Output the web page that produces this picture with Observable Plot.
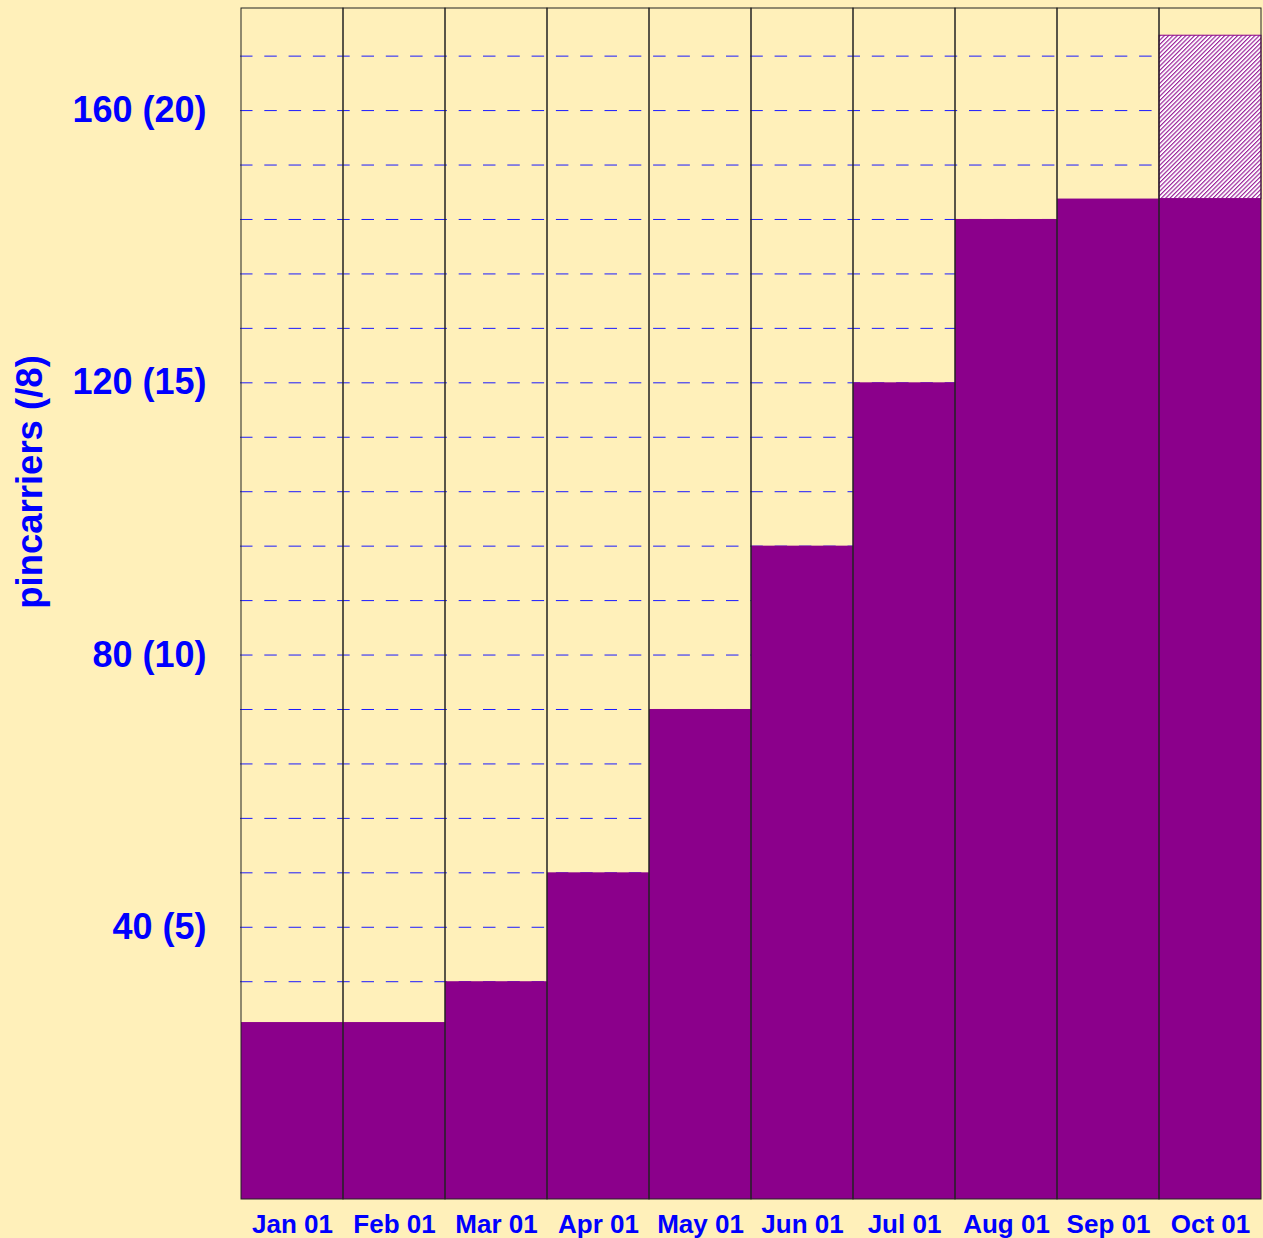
<!DOCTYPE html>
<html>
<head>
<meta charset="utf-8">
<script src="https://cdn.jsdelivr.net/npm/d3@7"></script>
<script src="https://cdn.jsdelivr.net/npm/@observablehq/plot@0.6"></script>
<style>
  html, body { margin: 0; padding: 0; background: #FFF0BA; }
  #chart svg { display: block; }
</style>
</head>
<body>
<div id="chart"></div>
<script>
const months = ["Jan 01", "Feb 01", "Mar 01", "Apr 01", "May 01", "Jun 01", "Jul 01", "Aug 01", "Sep 01", "Oct 01"];
const values = [26, 26, 32, 48, 72, 96, 120, 144, 147, 147];
const projectedMonth = ["Oct 01"];
const projectedBase = [147];
const projectedValue = [171];
const yDomain = [0, 175];
const yTicks = [40, 80, 120, 160];
const gridValues = [32, 40, 48, 56, 64, 72, 80, 88, 96, 104, 112, 120, 128, 136, 144, 152, 160, 168];
const yLabel = "pincarriers (/8)";

const data = months.map((m, i) => ({month: m, value: values[i]}));
const projected = projectedMonth.map((m, i) => ({month: m, base: projectedBase[i], value: projectedValue[i]}));
const columns = months.map(m => ({month: m, lo: yDomain[0], hi: yDomain[1]}));

const purple = "#8B008B";
const blue = "#0000FF";

const chart = Plot.plot({
  width: 1263,
  height: 1238,
  marginLeft: 240,
  marginRight: 1,
  marginTop: 8,
  marginBottom: 39,
  style: {background: "#FFF0BA", fontFamily: "'Liberation Sans', Arial, sans-serif", overflow: "visible"},
  x: {domain: months, padding: 0, axis: null},
  y: {domain: yDomain, axis: null},
  marks: [
    Plot.ruleY(gridValues, {y: d => d, stroke: "#1a1aff", strokeWidth: 1, strokeDasharray: "12.5,11.8", insetRight: 2}),
    Plot.barY(data, {x: "month", y: "value", fill: purple}),
    Plot.barY(projected, {x: "month", y1: "base", y2: "value", fill: "url(#hatch)", stroke: purple, strokeWidth: 1}),
    Plot.barY(columns, {x: "month", y1: "lo", y2: "hi", fill: "none", stroke: "#222", strokeWidth: 1}),
    Plot.axisY(yTicks, {
      tickSize: 0, tickPadding: 34, tickFormat: d => `${d} (${d / 8})`,
      fontSize: 36, fontWeight: "bold", fill: blue, label: null
    }),
    Plot.axisX(months, {
      tickSize: 0, tickPadding: 15, fontSize: 26, fontWeight: "bold", fill: blue, label: null
    }),
    Plot.text([yLabel], {
      text: d => d, frameAnchor: "left", rotate: -90, dx: -210, dy: -122,
      fontSize: 36.5, fontWeight: "bold", fill: blue, textAnchor: "middle", lineAnchor: "middle"
    })
  ]
});

// hatch pattern definition
const ns = "http://www.w3.org/2000/svg";
const defs = document.createElementNS(ns, "defs");
const pat = document.createElementNS(ns, "pattern");
pat.setAttribute("id", "hatch");
pat.setAttribute("patternUnits", "userSpaceOnUse");
pat.setAttribute("width", "3.05");
pat.setAttribute("height", "3.05");
pat.setAttribute("patternTransform", "rotate(45)");
const bg = document.createElementNS(ns, "rect");
bg.setAttribute("width", "3.05");
bg.setAttribute("height", "3.05");
bg.setAttribute("fill", "#ffffff");
const ln = document.createElementNS(ns, "line");
ln.setAttribute("x1", "0.6"); ln.setAttribute("y1", "0");
ln.setAttribute("x2", "0.6"); ln.setAttribute("y2", "3.05");
ln.setAttribute("stroke", purple);
ln.setAttribute("stroke-width", "1");
pat.appendChild(bg);
pat.appendChild(ln);
defs.appendChild(pat);
chart.insertBefore(defs, chart.firstChild);

document.getElementById("chart").appendChild(chart);
</script>
</body>
</html>
